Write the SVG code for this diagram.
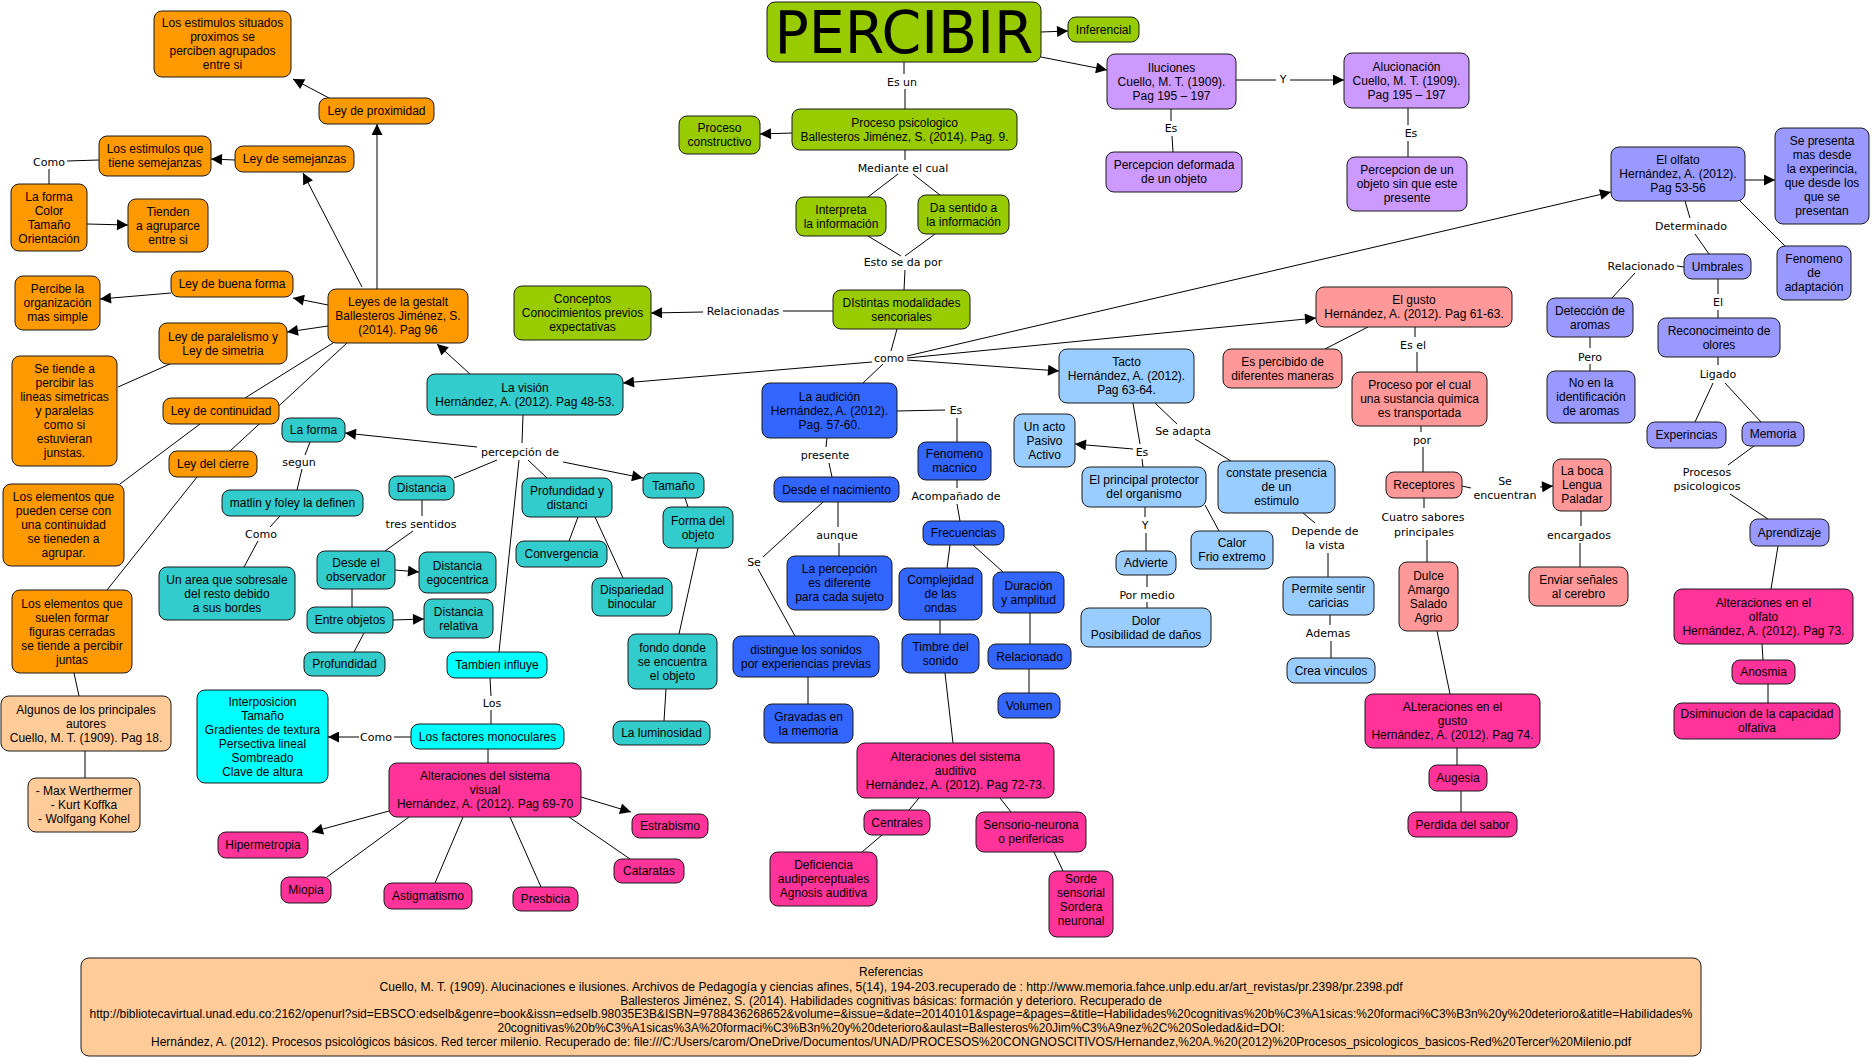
<svg xmlns="http://www.w3.org/2000/svg" width="1871" height="1058" viewBox="0 0 1871 1058">
<style>
.bg{fill:#fff}
.n rect{stroke:#1a1a1a;stroke-width:1;rx:8px;ry:8px}
.n text,.ref text{font-family:"Liberation Sans",Arial,sans-serif;font-size:12px;text-anchor:middle;fill:#000}
.ref text.r{font-size:13px}
.or rect{fill:#ff9900}.lo rect{fill:#ffcc99}.gr rect{fill:#99cc00}.pu rect{fill:#cc99ff}
.pw rect{fill:#9999ff}.sa rect{fill:#ff9999}.lb rect{fill:#99ccff}.bl rect{fill:#3366ff}
.te rect{fill:#33cccc}.cy rect{fill:#00ffff}.mg rect{fill:#ff3399}
#edges line{stroke:#000;stroke-width:1}
#edges .a{marker-end:url(#arr)}
#edges text{font-family:"DejaVu Sans",Verdana,sans-serif;font-size:11px;text-anchor:middle;fill:#000}
</style>
<defs>
<marker id="arr" viewBox="0 0 10 10" refX="10" refY="5" markerWidth="12" markerHeight="11" markerUnits="userSpaceOnUse" orient="auto"><path d="M0,0 L10,5 L0,10 z" fill="#000"/></marker>
</defs>
<rect class="bg" x="0" y="0" width="1871" height="1058"/>
<g id="edges">
<line class="a" x1="1041" y1="32" x2="1068" y2="31"/>
<line class="a" x1="1041" y1="57" x2="1107" y2="70"/>
<line x1="1236" y1="80" x2="1276" y2="80"/><text x="1283" y="83">Y</text><line class="a" x1="1290" y1="80" x2="1344" y2="80"/>
<line x1="1171" y1="109" x2="1171" y2="121"/><text x="1171" y="132">Es</text><line x1="1172" y1="136" x2="1173" y2="152"/>
<line x1="1408" y1="108" x2="1408" y2="125"/><text x="1411" y="137">Es</text><line x1="1408" y1="141" x2="1408" y2="157"/>
<line x1="904" y1="62" x2="904" y2="74"/><text x="902" y="86">Es un</text><line x1="905" y1="89" x2="905" y2="109"/>
<line class="a" x1="792" y1="133" x2="760" y2="134"/>
<line x1="905" y1="150" x2="905" y2="160"/><text x="903" y="172">Mediante el cual</text>
<line x1="898" y1="174" x2="868" y2="197"/><line x1="913" y1="174" x2="940" y2="195"/>
<line x1="868" y1="236" x2="901" y2="256"/><line x1="935" y1="234" x2="905" y2="256"/>
<text x="903" y="266">Esto se da por</text>
<line x1="905" y1="270" x2="904" y2="290"/>
<line x1="833" y1="311" x2="783" y2="311"/><text x="743" y="315">Relacionadas</text><line class="a" x1="703" y1="312" x2="651" y2="313"/>
<line x1="897" y1="329" x2="891" y2="351"/><text x="889" y="362">como</text>
<line class="a" x1="872" y1="362" x2="623" y2="383"/>
<line x1="883" y1="364" x2="863" y2="383"/>
<line class="a" x1="907" y1="360" x2="1059" y2="371"/>
<line class="a" x1="907" y1="358" x2="1316" y2="318"/>
<line class="a" x1="907" y1="356" x2="1611" y2="192"/>
<line class="a" x1="470" y1="374" x2="437" y2="344"/>
<line class="a" x1="377" y1="289" x2="377" y2="124"/>
<line class="a" x1="329" y1="98" x2="293" y2="79"/>
<line class="a" x1="362" y1="287" x2="303" y2="173"/>
<line class="a" x1="235" y1="160" x2="211" y2="159"/>
<line x1="99" y1="160" x2="67" y2="161"/><text x="49" y="166">Como</text><line x1="49" y1="169" x2="49" y2="184"/>
<line class="a" x1="87" y1="224" x2="128" y2="225"/>
<line class="a" x1="328" y1="305" x2="293" y2="298"/>
<line class="a" x1="171" y1="293" x2="100" y2="299"/>
<line class="a" x1="328" y1="326" x2="287" y2="332"/>
<line x1="170" y1="364" x2="118" y2="387"/>
<line x1="333" y1="343" x2="245" y2="398"/>
<line x1="347" y1="343" x2="230" y2="451"/>
<line x1="200" y1="424" x2="120" y2="484"/>
<line x1="197" y1="477" x2="107" y2="590"/>
<line x1="74" y1="673" x2="79" y2="696"/>
<line x1="85" y1="751" x2="85" y2="778"/>
<line x1="523" y1="415" x2="522" y2="443"/><text x="520" y="456">percepción de</text>
<line class="a" x1="477" y1="447" x2="345" y2="433"/>
<line x1="497" y1="460" x2="454" y2="478"/>
<line x1="528" y1="460" x2="547" y2="478"/>
<line class="a" x1="563" y1="462" x2="643" y2="478"/>
<line x1="519" y1="460" x2="499" y2="652"/>
<line x1="310" y1="442" x2="305" y2="455"/><text x="299" y="466">segun</text><line x1="302" y1="469" x2="297" y2="490"/>
<line x1="280" y1="516" x2="270" y2="527"/><text x="261" y="538">Como</text><line x1="258" y1="541" x2="244" y2="567"/>
<line x1="422" y1="500" x2="422" y2="516"/><text x="421" y="528">tres sentidos</text><line x1="413" y1="531" x2="385" y2="551"/>
<line class="a" x1="395" y1="570" x2="419" y2="572"/>
<line x1="352" y1="589" x2="352" y2="607"/>
<line class="a" x1="393" y1="620" x2="424" y2="619"/>
<line x1="364" y1="633" x2="354" y2="652"/>
<line x1="578" y1="517" x2="569" y2="541"/>
<line x1="595" y1="517" x2="623" y2="578"/>
<line x1="685" y1="498" x2="688" y2="507"/>
<line x1="698" y1="548" x2="679" y2="634"/>
<line x1="666" y1="689" x2="664" y2="721"/>
<line x1="490" y1="678" x2="491" y2="696"/><text x="492" y="707">Los</text><line x1="491" y1="710" x2="491" y2="724"/>
<line x1="411" y1="737" x2="394" y2="737"/><text x="376" y="741">Como</text><line class="a" x1="359" y1="737" x2="328" y2="737"/>
<line x1="488" y1="749" x2="488" y2="763"/>
<line class="a" x1="389" y1="811" x2="312" y2="832"/>
<line x1="409" y1="817" x2="327" y2="877"/>
<line x1="463" y1="817" x2="435" y2="883"/>
<line x1="510" y1="817" x2="541" y2="887"/>
<line class="a" x1="581" y1="797" x2="631" y2="812"/>
<line x1="569" y1="817" x2="630" y2="859"/>
<line x1="897" y1="411" x2="945" y2="410"/><text x="956" y="414">Es</text><line x1="957" y1="418" x2="957" y2="442"/>
<line x1="827" y1="438" x2="826" y2="447"/><text x="825" y="459">presente</text><line x1="829" y1="463" x2="832" y2="477"/>
<line x1="838" y1="502" x2="838" y2="527"/><text x="837" y="539">aunque</text><line x1="839" y1="543" x2="839" y2="556"/>
<line x1="823" y1="502" x2="763" y2="557"/><text x="754" y="566">Se</text><line x1="758" y1="569" x2="795" y2="636"/>
<line x1="808" y1="677" x2="808" y2="704"/>
<line x1="957" y1="480" x2="957" y2="488"/><text x="956" y="500">Acompañado de</text><line x1="957" y1="504" x2="960" y2="521"/>
<line x1="950" y1="545" x2="947" y2="568"/>
<line x1="973" y1="545" x2="1003" y2="572"/>
<line x1="940" y1="620" x2="940" y2="634"/>
<line x1="945" y1="673" x2="953" y2="743"/>
<line x1="1030" y1="613" x2="1030" y2="644"/>
<line x1="1029" y1="669" x2="1029" y2="693"/>
<line x1="919" y1="798" x2="909" y2="810"/>
<line x1="1000" y1="798" x2="1011" y2="812"/>
<line x1="882" y1="835" x2="862" y2="852"/>
<line x1="1054" y1="852" x2="1063" y2="871"/>
<line x1="1133" y1="403" x2="1140" y2="444"/><text x="1142" y="456">Es</text>
<line class="a" x1="1133" y1="449" x2="1075" y2="444"/>
<line x1="1142" y1="459" x2="1143" y2="467"/>
<line x1="1145" y1="507" x2="1145" y2="517"/><text x="1145" y="529">Y</text><line x1="1146" y1="533" x2="1146" y2="551"/>
<line x1="1205" y1="505" x2="1219" y2="531"/>
<line x1="1147" y1="575" x2="1147" y2="587"/><text x="1147" y="599">Por medio</text><line x1="1147" y1="602" x2="1147" y2="608"/>
<line x1="1155" y1="403" x2="1177" y2="424"/><text x="1183" y="435">Se adapta</text><line x1="1195" y1="439" x2="1231" y2="461"/>
<line x1="1303" y1="513" x2="1315" y2="523"/><text x="1325" y="535">Depende de</text><text x="1325" y="549">la vista</text><line x1="1328" y1="553" x2="1328" y2="577"/>
<line x1="1330" y1="615" x2="1330" y2="625"/><text x="1328" y="637">Ademas</text><line x1="1331" y1="641" x2="1331" y2="658"/>
<line x1="1368" y1="327" x2="1325" y2="349"/>
<line x1="1415" y1="327" x2="1415" y2="337"/><text x="1413" y="349">Es el</text><line x1="1417" y1="352" x2="1417" y2="372"/>
<line x1="1421" y1="426" x2="1421" y2="432"/><text x="1422" y="444">por</text><line x1="1423" y1="447" x2="1423" y2="472"/>
<line x1="1462" y1="486" x2="1471" y2="488"/><text x="1505" y="485">Se</text><text x="1505" y="499">encuentran</text><line class="a" x1="1540" y1="487" x2="1553" y2="486"/>
<line x1="1424" y1="498" x2="1424" y2="508"/><text x="1423" y="521">Cuatro sabores</text><text x="1424" y="536">principales</text><line x1="1427" y1="540" x2="1427" y2="562"/>
<line x1="1581" y1="511" x2="1581" y2="526"/><text x="1579" y="539">encargados</text><line x1="1580" y1="543" x2="1580" y2="567"/>
<line x1="1437" y1="631" x2="1450" y2="694"/>
<line x1="1457" y1="748" x2="1457" y2="765"/>
<line x1="1461" y1="791" x2="1461" y2="812"/>
<line class="a" x1="1745" y1="180" x2="1775" y2="180"/>
<line x1="1740" y1="201" x2="1785" y2="246"/>
<line x1="1685" y1="201" x2="1690" y2="218"/><text x="1691" y="230">Determinado</text><line x1="1695" y1="234" x2="1709" y2="254"/>
<line x1="1684" y1="267" x2="1677" y2="266"/><text x="1641" y="270">Relacionado</text><line x1="1635" y1="273" x2="1612" y2="298"/>
<line x1="1718" y1="279" x2="1718" y2="294"/><text x="1718" y="306">El</text><line x1="1718" y1="310" x2="1718" y2="318"/>
<line x1="1590" y1="337" x2="1590" y2="348"/><text x="1590" y="361">Pero</text><line x1="1590" y1="364" x2="1590" y2="371"/>
<line x1="1718" y1="357" x2="1718" y2="365"/><text x="1718" y="378">Ligado</text>
<line x1="1713" y1="383" x2="1695" y2="422"/>
<line x1="1725" y1="383" x2="1761" y2="422"/>
<line x1="1754" y1="446" x2="1728" y2="465"/><text x="1707" y="476">Procesos</text><text x="1707" y="490">psicologicos</text><line x1="1730" y1="494" x2="1768" y2="519"/>
<line x1="1778" y1="546" x2="1771" y2="589"/>
<line x1="1762" y1="644" x2="1763" y2="660"/>
<line x1="1768" y1="684" x2="1768" y2="703"/>
</g>
<g id="n_percibir" class="n gr"><rect x="767" y="2" width="274" height="60"/><text x="904" y="53" textLength="259" lengthAdjust="spacingAndGlyphs" style="font-family:'Comic Sans MS','DejaVu Sans',sans-serif;font-size:59px">PERCIBIR</text></g>
<g id="n_inferencial" class="n gr"><rect x="1068" y="17" width="71" height="25"/><text x="1103.5" y="33.5">Inferencial</text></g>
<g id="n_proceso_psi" class="n gr"><rect x="792" y="109" width="225" height="41"/><text x="904.5" y="126.5">Proceso psicologico</text><text x="904.5" y="140.5">Ballesteros Jiménez, S. (2014). Pag. 9.</text></g>
<g id="n_constructivo" class="n gr"><rect x="679" y="116" width="81" height="38"/><text x="719.5" y="132">Proceso</text><text x="719.5" y="146">constructivo</text></g>
<g id="n_interpreta" class="n gr"><rect x="796" y="197" width="90" height="39"/><text x="841" y="213.5">Interpreta</text><text x="841" y="227.5">la información</text></g>
<g id="n_dasentido" class="n gr"><rect x="918" y="195" width="91" height="39"/><text x="963.5" y="211.5">Da sentido a</text><text x="963.5" y="225.5">la información</text></g>
<g id="n_distintas" class="n gr"><rect x="833" y="290" width="137" height="39"/><text x="901.5" y="306.5">DIstintas modalidades</text><text x="901.5" y="320.5">sencoriales</text></g>
<g id="n_conceptos" class="n gr"><rect x="514" y="286" width="137" height="54"/><text x="582.5" y="303">Conceptos</text><text x="582.5" y="317">Conocimientos previos</text><text x="582.5" y="331">expectativas</text></g>
<g id="n_iluciones" class="n pu"><rect x="1107" y="54" width="129" height="55"/><text x="1171.5" y="71.5">Iluciones</text><text x="1171.5" y="85.5">Cuello, M. T. (1909).</text><text x="1171.5" y="99.5">Pag 195 – 197</text></g>
<g id="n_alucionacion" class="n pu"><rect x="1344" y="53" width="125" height="55"/><text x="1406.5" y="70.5">Alucionación</text><text x="1406.5" y="84.5">Cuello, M. T. (1909).</text><text x="1406.5" y="98.5">Pag 195 – 197</text></g>
<g id="n_deformada" class="n pu"><rect x="1106" y="152" width="136" height="40"/><text x="1174" y="169">Percepcion deformada</text><text x="1174" y="183">de un objeto</text></g>
<g id="n_sinpresente" class="n pu"><rect x="1347" y="157" width="120" height="54"/><text x="1407" y="174">Percepcion de un</text><text x="1407" y="188">objeto sin que este</text><text x="1407" y="202">presente</text></g>
<g id="n_est_prox" class="n or"><rect x="154" y="11" width="137" height="66"/><text x="222.5" y="27">Los estimulos situados</text><text x="222.5" y="41">proximos se</text><text x="222.5" y="55">perciben agrupados</text><text x="222.5" y="69">entre si</text></g>
<g id="n_ley_prox" class="n or"><rect x="319" y="98" width="115" height="26"/><text x="376.5" y="115">Ley de proximidad</text></g>
<g id="n_est_sem" class="n or"><rect x="99" y="136" width="112" height="40"/><text x="155" y="153">Los estimulos que</text><text x="155" y="167">tiene semejanzas</text></g>
<g id="n_ley_sem" class="n or"><rect x="235" y="146" width="119" height="26"/><text x="294.5" y="163">Ley de semejanzas</text></g>
<g id="n_forma_color" class="n or"><rect x="11" y="184" width="76" height="67"/><text x="49" y="200.5">La forma</text><text x="49" y="214.5">Color</text><text x="49" y="228.5">Tamaño</text><text x="49" y="242.5">Orientación</text></g>
<g id="n_tienden" class="n or"><rect x="128" y="199" width="80" height="53"/><text x="168" y="215.5">Tienden</text><text x="168" y="229.5">a agruparce</text><text x="168" y="243.5">entre si</text></g>
<g id="n_buena" class="n or"><rect x="171" y="271" width="122" height="26"/><text x="232" y="288">Ley de buena forma</text></g>
<g id="n_percibe" class="n or"><rect x="15" y="276" width="85" height="54"/><text x="57.5" y="293">Percibe la</text><text x="57.5" y="307">organización</text><text x="57.5" y="321">mas simple</text></g>
<g id="n_leyes" class="n or"><rect x="328" y="289" width="140" height="54"/><text x="398" y="306">Leyes de la gestalt</text><text x="398" y="320">Ballesteros Jiménez, S.</text><text x="398" y="334">(2014). Pag 96</text></g>
<g id="n_paral" class="n or"><rect x="159" y="323" width="128" height="41"/><text x="223" y="340.5">Ley de paralelismo y</text><text x="223" y="354.5">Ley de simetria</text></g>
<g id="n_se_tiende" class="n or"><rect x="12" y="356" width="105" height="110"/><text x="64.5" y="373">Se tiende a</text><text x="64.5" y="387">percibir las</text><text x="64.5" y="401">lineas simetricas</text><text x="64.5" y="415">y paralelas</text><text x="64.5" y="429">como si</text><text x="64.5" y="443">estuvieran</text><text x="64.5" y="457">junstas.</text></g>
<g id="n_continuidad" class="n or"><rect x="163" y="398" width="116" height="26"/><text x="221" y="415">Ley de continuidad</text></g>
<g id="n_cierre" class="n or"><rect x="169" y="451" width="88" height="26"/><text x="213" y="468">Ley del cierre</text></g>
<g id="n_elem_cont" class="n or"><rect x="3" y="484" width="121" height="82"/><text x="63.5" y="501">Los elementos que</text><text x="63.5" y="515">pueden cerse con</text><text x="63.5" y="529">una continuidad</text><text x="63.5" y="543">se tieneden a</text><text x="63.5" y="557">agrupar.</text></g>
<g id="n_elem_cerr" class="n or"><rect x="12" y="590" width="120" height="83"/><text x="72" y="607.5">Los elementos que</text><text x="72" y="621.5">suelen formar</text><text x="72" y="635.5">figuras cerradas</text><text x="72" y="649.5">se tiende a percibir</text><text x="72" y="663.5">juntas</text></g>
<g id="n_algunos" class="n lo"><rect x="1" y="696" width="170" height="55"/><text x="86" y="713.5">Algunos de los principales</text><text x="86" y="727.5">autores</text><text x="86" y="741.5">Cuello, M. T. (1909). Pag 18.</text></g>
<g id="n_max" class="n lo"><rect x="28" y="778" width="112" height="54"/><text x="84" y="795">- Max Werthermer</text><text x="84" y="809">- Kurt Koffka</text><text x="84" y="823">- Wolfgang Kohel</text></g>
<g id="n_olfato" class="n pw"><rect x="1611" y="147" width="134" height="54"/><text x="1678" y="164">El olfato</text><text x="1678" y="178">Hernández, A. (2012).</text><text x="1678" y="192">Pag 53-56</text></g>
<g id="n_sepresenta" class="n pw"><rect x="1775" y="128" width="94" height="96"/><text x="1822" y="145">Se presenta</text><text x="1822" y="159">mas desde</text><text x="1822" y="173">la experincia,</text><text x="1822" y="187">que desde los</text><text x="1822" y="201">que se</text><text x="1822" y="215">presentan</text></g>
<g id="n_fen_adapt" class="n pw"><rect x="1777" y="246" width="74" height="54"/><text x="1814" y="263">Fenomeno</text><text x="1814" y="277">de</text><text x="1814" y="291">adaptación</text></g>
<g id="n_umbrales" class="n pw"><rect x="1684" y="254" width="67" height="25"/><text x="1717.5" y="270.5">Umbrales</text></g>
<g id="n_deteccion" class="n pw"><rect x="1547" y="298" width="86" height="39"/><text x="1590" y="314.5">Detección de</text><text x="1590" y="328.5">aromas</text></g>
<g id="n_reconoc" class="n pw"><rect x="1658" y="318" width="122" height="39"/><text x="1719" y="334.5">Reconocimeinto de</text><text x="1719" y="348.5">olores</text></g>
<g id="n_noenla" class="n pw"><rect x="1547" y="371" width="88" height="52"/><text x="1591" y="387">No en la</text><text x="1591" y="401">identificación</text><text x="1591" y="415">de aromas</text></g>
<g id="n_experincias" class="n pw"><rect x="1647" y="422" width="79" height="26"/><text x="1686.5" y="439">Experincias</text></g>
<g id="n_memoria" class="n pw"><rect x="1742" y="422" width="62" height="24"/><text x="1773" y="438">Memoria</text></g>
<g id="n_aprendizaje" class="n pw"><rect x="1750" y="519" width="79" height="27"/><text x="1789.5" y="536.5">Aprendizaje</text></g>
<g id="n_gusto" class="n sa"><rect x="1316" y="287" width="196" height="40"/><text x="1414" y="304">El gusto</text><text x="1414" y="318">Hernández, A. (2012). Pag 61-63.</text></g>
<g id="n_espercibido" class="n sa"><rect x="1223" y="349" width="119" height="39"/><text x="1282.5" y="365.5">Es percibido de</text><text x="1282.5" y="379.5">diferentes maneras</text></g>
<g id="n_procesoquim" class="n sa"><rect x="1352" y="372" width="135" height="54"/><text x="1419.5" y="389">Proceso por el cual</text><text x="1419.5" y="403">una sustancia quimica</text><text x="1419.5" y="417">es transportada</text></g>
<g id="n_receptores" class="n sa"><rect x="1386" y="472" width="76" height="26"/><text x="1424" y="489">Receptores</text></g>
<g id="n_boca" class="n sa"><rect x="1553" y="459" width="58" height="52"/><text x="1582" y="475">La boca</text><text x="1582" y="489">Lengua</text><text x="1582" y="503">Paladar</text></g>
<g id="n_enviar" class="n sa"><rect x="1529" y="567" width="99" height="39"/><text x="1578.5" y="583.5">Enviar señales</text><text x="1578.5" y="597.5">al cerebro</text></g>
<g id="n_dulce" class="n sa"><rect x="1399" y="562" width="59" height="69"/><text x="1428.5" y="579.5">Dulce</text><text x="1428.5" y="593.5">Amargo</text><text x="1428.5" y="607.5">Salado</text><text x="1428.5" y="621.5">Agrio</text></g>
<g id="n_tacto" class="n lb"><rect x="1059" y="349" width="135" height="54"/><text x="1126.5" y="366">Tacto</text><text x="1126.5" y="380">Hernández, A. (2012).</text><text x="1126.5" y="394">Pag 63-64.</text></g>
<g id="n_unacto" class="n lb"><rect x="1014" y="414" width="61" height="53"/><text x="1044.5" y="430.5">Un acto</text><text x="1044.5" y="444.5">Pasivo</text><text x="1044.5" y="458.5">Activo</text></g>
<g id="n_protector" class="n lb"><rect x="1082" y="467" width="124" height="40"/><text x="1144" y="484">El principal protector</text><text x="1144" y="498">del organismo</text></g>
<g id="n_constate" class="n lb"><rect x="1218" y="461" width="117" height="52"/><text x="1276.5" y="477">constate presencia</text><text x="1276.5" y="491">de un</text><text x="1276.5" y="505">estimulo</text></g>
<g id="n_calor" class="n lb"><rect x="1191" y="531" width="82" height="38"/><text x="1232" y="547">Calor</text><text x="1232" y="561">Frio extremo</text></g>
<g id="n_advierte" class="n lb"><rect x="1116" y="551" width="60" height="24"/><text x="1146" y="567">Advierte</text></g>
<g id="n_dolor" class="n lb"><rect x="1081" y="608" width="130" height="39"/><text x="1146" y="624.5">Dolor</text><text x="1146" y="638.5">Posibilidad de daños</text></g>
<g id="n_permite" class="n lb"><rect x="1283" y="577" width="91" height="38"/><text x="1328.5" y="593">Permite sentir</text><text x="1328.5" y="607">caricias</text></g>
<g id="n_crea" class="n lb"><rect x="1287" y="658" width="88" height="25"/><text x="1331" y="674.5">Crea vinculos</text></g>
<g id="n_audicion" class="n bl"><rect x="762" y="383" width="135" height="55"/><text x="829.5" y="400.5">La audición</text><text x="829.5" y="414.5">Hernández, A. (2012).</text><text x="829.5" y="428.5">Pag. 57-60.</text></g>
<g id="n_fen_macnico" class="n bl"><rect x="918" y="442" width="73" height="38"/><text x="954.5" y="458">Fenomeno</text><text x="954.5" y="472">macnico</text></g>
<g id="n_desde_nac" class="n bl"><rect x="774" y="477" width="125" height="25"/><text x="836.5" y="493.5">Desde el nacimiento</text></g>
<g id="n_frecuencias" class="n bl"><rect x="923" y="521" width="81" height="24"/><text x="963.5" y="537">Frecuencias</text></g>
<g id="n_percep_dif" class="n bl"><rect x="787" y="556" width="105" height="54"/><text x="839.5" y="573">La percepción</text><text x="839.5" y="587">es diferente</text><text x="839.5" y="601">para cada sujeto</text></g>
<g id="n_complejidad" class="n bl"><rect x="899" y="568" width="83" height="52"/><text x="940.5" y="584">Complejidad</text><text x="940.5" y="598">de las</text><text x="940.5" y="612">ondas</text></g>
<g id="n_duracion" class="n bl"><rect x="993" y="572" width="71" height="41"/><text x="1028.5" y="589.5">Duración</text><text x="1028.5" y="603.5">y amplitud</text></g>
<g id="n_distingue" class="n bl"><rect x="733" y="636" width="146" height="41"/><text x="806" y="653.5">distingue los sonidos</text><text x="806" y="667.5">por experiencias previas</text></g>
<g id="n_timbre" class="n bl"><rect x="902" y="634" width="77" height="39"/><text x="940.5" y="650.5">Timbre del</text><text x="940.5" y="664.5">sonido</text></g>
<g id="n_relacionado" class="n bl"><rect x="988" y="644" width="83" height="25"/><text x="1029.5" y="660.5">Relacionado</text></g>
<g id="n_gravadas" class="n bl"><rect x="764" y="704" width="89" height="39"/><text x="808.5" y="720.5">Gravadas en</text><text x="808.5" y="734.5">la memoria</text></g>
<g id="n_volumen" class="n bl"><rect x="998" y="693" width="62" height="25"/><text x="1029" y="709.5">Volumen</text></g>
<g id="n_vision" class="n te"><rect x="427" y="374" width="196" height="41"/><text x="525" y="391.5">La visión</text><text x="525" y="405.5">Hernández, A. (2012). Pag 48-53.</text></g>
<g id="n_laforma" class="n te"><rect x="282" y="418" width="63" height="24"/><text x="313.5" y="434">La forma</text></g>
<g id="n_matlin" class="n te"><rect x="222" y="490" width="141" height="26"/><text x="292.5" y="507">matlin y foley la definen</text></g>
<g id="n_unarea" class="n te"><rect x="159" y="567" width="136" height="53"/><text x="227" y="583.5">Un area que sobresale</text><text x="227" y="597.5">del resto debido</text><text x="227" y="611.5">a sus bordes</text></g>
<g id="n_distancia" class="n te"><rect x="389" y="476" width="65" height="24"/><text x="421.5" y="492">Distancia</text></g>
<g id="n_desde_obs" class="n te"><rect x="317" y="551" width="78" height="38"/><text x="356" y="567">Desde el</text><text x="356" y="581">observador</text></g>
<g id="n_dist_ego" class="n te"><rect x="419" y="552" width="77" height="41"/><text x="457.5" y="569.5">Distancia</text><text x="457.5" y="583.5">egocentrica</text></g>
<g id="n_entre" class="n te"><rect x="307" y="607" width="86" height="26"/><text x="350" y="624">Entre objetos</text></g>
<g id="n_dist_rel" class="n te"><rect x="424" y="599" width="69" height="39"/><text x="458.5" y="615.5">Distancia</text><text x="458.5" y="629.5">relativa</text></g>
<g id="n_profundidad" class="n te"><rect x="304" y="652" width="81" height="24"/><text x="344.5" y="668">Profundidad</text></g>
<g id="n_prof_dist" class="n te"><rect x="522" y="478" width="90" height="39"/><text x="567" y="494.5">Profundidad y</text><text x="567" y="508.5">distanci</text></g>
<g id="n_convergencia" class="n te"><rect x="516" y="541" width="91" height="26"/><text x="561.5" y="558">Convergencia</text></g>
<g id="n_dispariedad" class="n te"><rect x="592" y="578" width="80" height="38"/><text x="632" y="594">Dispariedad</text><text x="632" y="608">binocular</text></g>
<g id="n_tamano" class="n te"><rect x="643" y="473" width="61" height="25"/><text x="673.5" y="489.5">Tamaño</text></g>
<g id="n_forma_obj" class="n te"><rect x="663" y="507" width="70" height="41"/><text x="698" y="524.5">Forma del</text><text x="698" y="538.5">objeto</text></g>
<g id="n_fondo" class="n te"><rect x="628" y="634" width="89" height="55"/><text x="672.5" y="651.5">fondo donde</text><text x="672.5" y="665.5">se encuentra</text><text x="672.5" y="679.5">el objeto</text></g>
<g id="n_luminosidad" class="n te"><rect x="613" y="721" width="97" height="24"/><text x="661.5" y="737">La luminosidad</text></g>
<g id="n_tambien" class="n cy"><rect x="447" y="652" width="100" height="26"/><text x="497" y="669">Tambien influye</text></g>
<g id="n_interposicion" class="n cy"><rect x="197" y="690" width="131" height="93"/><text x="262.5" y="705.5">Interposicion</text><text x="262.5" y="719.5">Tamaño</text><text x="262.5" y="733.5">Gradientes de textura</text><text x="262.5" y="747.5">Persectiva lineal</text><text x="262.5" y="761.5">Sombreado</text><text x="262.5" y="775.5">Clave de altura</text></g>
<g id="n_factores" class="n cy"><rect x="411" y="724" width="153" height="25"/><text x="487.5" y="740.5">Los factores monoculares</text></g>
<g id="n_alt_visual" class="n mg"><rect x="389" y="763" width="192" height="54"/><text x="485" y="780">Alteraciones del sistema</text><text x="485" y="794">visual</text><text x="485" y="808">Hernández, A. (2012). Pag 69-70</text></g>
<g id="n_hipermetropia" class="n mg"><rect x="218" y="832" width="90" height="26"/><text x="263" y="849">Hipermetropia</text></g>
<g id="n_miopia" class="n mg"><rect x="281" y="877" width="50" height="26"/><text x="306" y="894">Miopia</text></g>
<g id="n_astigmatismo" class="n mg"><rect x="384" y="883" width="88" height="26"/><text x="428" y="900">Astigmatismo</text></g>
<g id="n_presbicia" class="n mg"><rect x="513" y="887" width="65" height="24"/><text x="545.5" y="903">Presbicia</text></g>
<g id="n_estrabismo" class="n mg"><rect x="632" y="814" width="76" height="24"/><text x="670" y="830">Estrabismo</text></g>
<g id="n_cataratas" class="n mg"><rect x="614" y="859" width="70" height="24"/><text x="649" y="875">Cataratas</text></g>
<g id="n_alt_auditivo" class="n mg"><rect x="857" y="743" width="197" height="55"/><text x="955.5" y="760.5">Alteraciones del sistema</text><text x="955.5" y="774.5">auditivo</text><text x="955.5" y="788.5">Hernández, A. (2012). Pag 72-73.</text></g>
<g id="n_centrales" class="n mg"><rect x="864" y="810" width="66" height="25"/><text x="897" y="826.5">Centrales</text></g>
<g id="n_sensorio" class="n mg"><rect x="976" y="812" width="110" height="40"/><text x="1031" y="829">Sensorio-neurona</text><text x="1031" y="843">o perifericas</text></g>
<g id="n_deficiencia" class="n mg"><rect x="770" y="852" width="107" height="54"/><text x="823.5" y="869">Deficiencia</text><text x="823.5" y="883">audiperceptuales</text><text x="823.5" y="897">Agnosis auditiva</text></g>
<g id="n_sorde" class="n mg"><rect x="1049" y="871" width="64" height="66"/><text x="1081" y="883">Sorde</text><text x="1081" y="897">sensorial</text><text x="1081" y="911">Sordera</text><text x="1081" y="925">neuronal</text></g>
<g id="n_alt_gusto" class="n mg"><rect x="1365" y="694" width="175" height="54"/><text x="1452.5" y="711">ALteraciones en el</text><text x="1452.5" y="725">gusto</text><text x="1452.5" y="739">Hernández, A. (2012). Pag 74.</text></g>
<g id="n_augesia" class="n mg"><rect x="1429" y="765" width="58" height="26"/><text x="1458" y="782">Augesia</text></g>
<g id="n_perdida" class="n mg"><rect x="1408" y="812" width="109" height="25"/><text x="1462.5" y="828.5">Perdida del sabor</text></g>
<g id="n_alt_olfato" class="n mg"><rect x="1674" y="589" width="179" height="55"/><text x="1763.5" y="606.5">Alteraciones en el</text><text x="1763.5" y="620.5">olfato</text><text x="1763.5" y="634.5">Hernández, A. (2012). Pag 73.</text></g>
<g id="n_anosmia" class="n mg"><rect x="1732" y="660" width="63" height="24"/><text x="1763.5" y="676">Anosmia</text></g>
<g id="n_dsiminucion" class="n mg"><rect x="1674" y="703" width="166" height="36"/><text x="1757" y="718">Dsiminucion de la capacidad</text><text x="1757" y="732">olfativa</text></g>
<g id="n_referencias" class="n lo ref"><rect x="81" y="958" width="1620" height="98"/>
<text x="891" y="976">Referencias</text>
<text class="r" x="891" y="991" textLength="1023" lengthAdjust="spacingAndGlyphs">Cuello, M. T. (1909). Alucinaciones e ilusiones. Archivos de Pedagogía y ciencias afines, 5(14), 194-203.recuperado de : http://www.memoria.fahce.unlp.edu.ar/art_revistas/pr.2398/pr.2398.pdf</text>
<text x="891" y="1005">Ballesteros Jiménez, S. (2014). Habilidades cognitivas básicas: formación y deterioro. Recuperado de</text>
<text class="r" x="891" y="1018" textLength="1603" lengthAdjust="spacingAndGlyphs">http://bibliotecavirtual.unad.edu.co:2162/openurl?sid=EBSCO:edselb&amp;genre=book&amp;issn=edselb.98035E3B&amp;ISBN=9788436268652&amp;volume=&amp;issue=&amp;date=20140101&amp;spage=&amp;pages=&amp;title=Habilidades%20cognitivas%20b%C3%A1sicas:%20formaci%C3%B3n%20y%20deterioro&amp;atitle=Habilidades%</text>
<text class="r" x="891" y="1032" textLength="787" lengthAdjust="spacingAndGlyphs">20cognitivas%20b%C3%A1sicas%3A%20formaci%C3%B3n%20y%20deterioro&amp;aulast=Ballesteros%20Jim%C3%A9nez%2C%20Soledad&amp;id=DOI:</text>
<text class="r" x="891" y="1046" textLength="1480" lengthAdjust="spacingAndGlyphs">Hernández, A. (2012). Procesos psicológicos básicos. Red tercer milenio. Recuperado de: file:///C:/Users/carom/OneDrive/Documentos/UNAD/PROCESOS%20CONGNOSCITIVOS/Hernandez,%20A.%20(2012)%20Procesos_psicologicos_basicos-Red%20Tercer%20Milenio.pdf</text>
</g>
</svg>
